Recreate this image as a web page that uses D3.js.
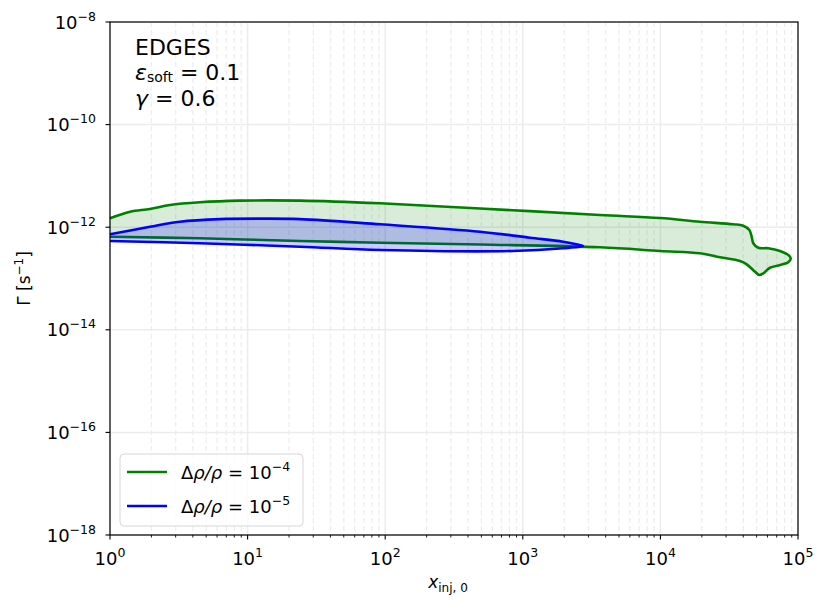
<!DOCTYPE html>
<html>
<head>
<meta charset="utf-8">
<script src="https://cdn.jsdelivr.net/npm/d3@7"></script>
<style>
  body { margin: 0; background: #fff; }
  text { font-family: "DejaVu Sans", sans-serif; fill: #000; }
</style>
</head>
<body>
<div id="container"></div>
<script>
// contour of Δρ/ρ = 1e-4 : [x_inj,0 , Γ]
var greenContour = [
  [1, 1.49e-12], [1.4, 2.0e-12], [1.95, 2.26e-12], [2.73, 2.71e-12], [4.5, 3.06e-12],
  [8.8, 3.29e-12], [24, 3.29e-12], [92, 2.92e-12], [489, 2.32e-12], [3640, 1.73e-12],
  [9930, 1.51e-12], [19400, 1.28e-12], [33900, 1.14e-12], [40000, 1.07e-12],
  [44300, 8.8e-13], [46100, 6.5e-13], [47300, 4.86e-13], [51400, 3.98e-13],
  [60800, 3.88e-13], [74000, 3.44e-13], [85000, 2.87e-13], [88500, 2.48e-13],
  [85000, 2.07e-13], [74000, 1.83e-13], [62600, 1.62e-13], [56000, 1.26e-13],
  [52300, 1.17e-13], [48700, 1.36e-13], [42400, 1.89e-13], [37900, 2.19e-13],
  [27100, 2.59e-13], [19400, 3.1e-13], [9930, 3.44e-13], [3640, 4.06e-13],
  [489, 4.6e-13], [92, 4.99e-13], [24, 5.39e-13], [4.5, 6.08e-13], [1, 6.53e-13]
];
// contour of Δρ/ρ = 1e-5
var blueContour = [
  [1, 7.27e-13], [1.95, 1.02e-12], [3.22, 1.28e-12], [6.3, 1.44e-12], [12.3, 1.47e-12],
  [24, 1.44e-12], [92, 1.14e-12], [489, 8.17e-13], [1128, 6.24e-13], [1960, 5.22e-13],
  [2395, 4.71e-13], [2740, 4.3e-13], [1960, 3.88e-13], [849, 3.44e-13],
  [92, 3.6e-13], [24, 4.17e-13], [4.5, 4.86e-13], [1, 5.39e-13]
];
var xTicks = [0, 1, 2, 3, 4, 5];
var yTicks = [-8, -10, -12, -14, -16, -18];
var legendPowers = ["\u22124", "\u22125"];
var seriesColors = ["#008000", "#0000ff"];

var W = 830, H = 611;
var m = {left: 110, right: 32, top: 22, bottom: 76};

var svg = d3.select("#container").append("svg")
    .attr("width", W).attr("height", H);

var x = d3.scaleLog().domain([1, 1e5]).range([m.left, W - m.right]);
var y = d3.scaleLog().domain([1e-18, 1e-8]).range([H - m.bottom, m.top]);

var minorX = [];
xTicks.slice(0, -1).forEach(function (e) {
    for (var k = 2; k <= 9; k++) minorX.push(k * Math.pow(10, e));
});

// grid
var grid = svg.append("g");
grid.selectAll(".mx").data(minorX).enter().append("line")
    .attr("x1", function (d) { return x(d); }).attr("x2", function (d) { return x(d); })
    .attr("y1", m.top).attr("y2", H - m.bottom)
    .attr("stroke", "#efefef").attr("stroke-width", 1.4)
    .attr("stroke-dasharray", "5,3");
grid.selectAll(".Mx").data(xTicks).enter().append("line")
    .attr("x1", function (d) { return x(Math.pow(10, d)); })
    .attr("x2", function (d) { return x(Math.pow(10, d)); })
    .attr("y1", m.top).attr("y2", H - m.bottom)
    .attr("stroke", "#ececec").attr("stroke-width", 1.5);
grid.selectAll(".My").data(yTicks).enter().append("line")
    .attr("y1", function (d) { return y(Math.pow(10, d)); })
    .attr("y2", function (d) { return y(Math.pow(10, d)); })
    .attr("x1", m.left).attr("x2", W - m.right)
    .attr("stroke", "#ececec").attr("stroke-width", 1.5);

// contours
var area = d3.line()
    .x(function (d) { return x(d[0]); })
    .y(function (d) { return y(d[1]); })
    .curve(d3.curveCatmullRom.alpha(0.5));

svg.append("path").attr("d", area(greenContour) + "Z")
    .attr("fill", "#008000").attr("fill-opacity", 0.15).attr("stroke", "none");
svg.append("path").attr("d", area(greenContour))
    .attr("fill", "none").attr("stroke", seriesColors[0]).attr("stroke-width", 2.6);
svg.append("path").attr("d", area(blueContour) + "Z")
    .attr("fill", "#0000ff").attr("fill-opacity", 0.2).attr("stroke", "none");
svg.append("path").attr("d", area(blueContour))
    .attr("fill", "none").attr("stroke", seriesColors[1]).attr("stroke-width", 2.6);

// axes
var xAxis = svg.append("g").attr("transform", "translate(0," + (H - m.bottom) + ")");
xAxis.selectAll(".mt").data(minorX).enter().append("line")
    .attr("x1", function (d) { return x(d); }).attr("x2", function (d) { return x(d); })
    .attr("y1", 0).attr("y2", 2.5).attr("stroke", "#000").attr("stroke-width", 0.9);
xAxis.selectAll(".Mt").data(xTicks).enter().append("line")
    .attr("x1", function (d) { return x(Math.pow(10, d)); })
    .attr("x2", function (d) { return x(Math.pow(10, d)); })
    .attr("y1", 0).attr("y2", 4.5).attr("stroke", "#000").attr("stroke-width", 1.1);
var xl = xAxis.selectAll(".tl").data(xTicks).enter().append("text")
    .attr("x", function (d) { return x(Math.pow(10, d)); })
    .attr("y", 30).attr("text-anchor", "middle").style("font-size", "18px");
xl.append("tspan").text("10");
xl.append("tspan").attr("dy", -8).style("font-size", "12.5px").text(function (d) { return d; });

var yAxis = svg.append("g").attr("transform", "translate(" + m.left + ",0)");
yAxis.selectAll(".Mt").data(yTicks).enter().append("line")
    .attr("y1", function (d) { return y(Math.pow(10, d)); })
    .attr("y2", function (d) { return y(Math.pow(10, d)); })
    .attr("x1", 0).attr("x2", -4.5).attr("stroke", "#000").attr("stroke-width", 1.1);
var yl = yAxis.selectAll(".tl").data(yTicks).enter().append("text")
    .attr("x", -14).attr("y", function (d) { return y(Math.pow(10, d)) + 6.5; })
    .attr("text-anchor", "end").style("font-size", "18px");
yl.append("tspan").text("10");
yl.append("tspan").attr("dy", -8).style("font-size", "12.5px")
    .text(function (d) { return "\u2212" + Math.abs(d); });

svg.append("rect").attr("x", m.left).attr("y", m.top)
    .attr("width", W - m.left - m.right).attr("height", H - m.top - m.bottom)
    .attr("fill", "none").attr("stroke", "#000").attr("stroke-width", 1.2);

// axis labels
var xt = svg.append("text").attr("x", (m.left + W - m.right) / 2 - 6).attr("y", 588)
    .attr("text-anchor", "middle").style("font-size", "17px");
xt.append("tspan").style("font-style", "italic").text("x");
xt.append("tspan").attr("dy", 4).style("font-size", "12px").text("inj, 0");

var yt = svg.append("text")
    .attr("transform", "translate(30," + ((m.top + H - m.bottom) / 2) + ") rotate(-90)")
    .attr("text-anchor", "middle").style("font-size", "17px");
yt.append("tspan").text("\u0393 [s");
yt.append("tspan").attr("dy", -7).style("font-size", "12px").text("\u22121");
yt.append("tspan").attr("dy", 7).text("]");

// annotation
svg.append("text").attr("x", 135).attr("y", 55).style("font-size", "22px").text("EDGES");
var eps = svg.append("text").attr("x", 135).attr("y", 80).style("font-size", "22px");
eps.append("tspan").style("font-style", "italic").text("\u03b5");
eps.append("tspan").attr("dy", 2).style("font-size", "14px").text("soft");
eps.append("tspan").attr("dy", -2).text(" = 0.1");
var gam = svg.append("text").attr("x", 135).attr("y", 106).style("font-size", "22px");
gam.append("tspan").style("font-style", "italic").text("\u03b3");
gam.append("tspan").text(" = 0.6");

// legend
var lg = svg.append("g");
lg.append("rect").attr("x", 120).attr("y", 454).attr("width", 183).attr("height", 72)
    .attr("rx", 4).attr("fill", "#fff").attr("fill-opacity", 0.8)
    .attr("stroke", "#d6d6d6").attr("stroke-width", 1);
var items = lg.selectAll(".it").data(legendPowers).enter().append("g")
    .attr("transform", function (d, i) { return "translate(0," + (472 + i * 34) + ")"; });
items.append("line").attr("x1", 127).attr("x2", 167).attr("y1", 0).attr("y2", 0)
    .attr("stroke", function (d, i) { return seriesColors[i]; }).attr("stroke-width", 2.6);
var it = items.append("text").attr("x", 181).attr("y", 7).style("font-size", "18px");
it.append("tspan").text("\u0394");
it.append("tspan").style("font-style", "italic").text("\u03c1");
it.append("tspan").style("font-style", "italic").text("/\u03c1");
it.append("tspan").text(" = 10");
it.append("tspan").attr("dy", -8).style("font-size", "12.5px")
    .text(function (d) { return d; });
</script>
</body>
</html>
